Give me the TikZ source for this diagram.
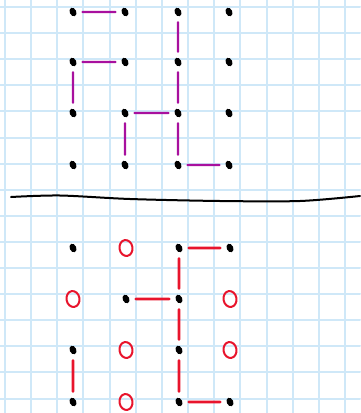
\documentclass[tikz,border=0pt]{standalone}
\usepackage{tikz}
\usetikzlibrary{shapes.geometric}
\definecolor{GridBlue}{HTML}{CFE8F8}
\definecolor{PathPurple}{HTML}{A8109E}
\definecolor{PathRed}{HTML}{E8142C}

\begin{document}
\begin{tikzpicture}[x=1pt, y=-1pt, line cap=round]
\tikzstyle{dot}=[ellipse, fill=black, inner sep=0pt, minimum width=6.5pt, minimum height=9pt, rotate=25]
\tikzstyle{hole}=[ellipse, draw=PathRed, line width=2pt, inner sep=0pt, minimum width=13pt, minimum height=16pt, rotate=10]
\tikzstyle{gridline}=[draw=GridBlue, line width=2pt]
\tikzstyle{pline}=[draw=PathPurple, line width=2.4pt, shorten <=6pt, shorten >=6pt]
\tikzstyle{rline}=[draw=PathRed, line width=2.6pt, shorten <=6pt, shorten >=6pt]
\useasboundingbox (0,0) rectangle (360,413);
\fill[white] (0,0) rectangle (360,413);
% graph paper
\foreach \i in {0,...,13} \draw[gridline] ({5+26.15*\i},0) -- ++(0,413);
\foreach \j in {0,...,15} \draw[gridline] (0,{7+26.1*\j}) -- ++(360,0);
% upper grid of dots
\foreach \r/\y in {0/12,1/62,2/113,3/165}
  \foreach \c/\x in {0/73,1/125,2/178,3/229}
    \node[dot] (t-\r-\c) at (\x,\y) {};
\draw[pline] (t-0-0) -- (t-0-1);
\draw[pline] (t-1-0) -- (t-1-1);
\draw[pline] (t-1-0) -- (t-2-0);
\draw[pline] (t-0-2) -- (t-1-2);
\draw[pline] (t-1-2) -- (t-2-2);
\draw[pline] (t-2-1) -- (t-2-2);
\draw[pline] (t-2-1) -- (t-3-1);
\draw[pline] (t-2-2) -- (t-3-2);
\draw[pline] (t-3-2) -- (t-3-3);
% divider
\draw[line width=2pt, black] plot[smooth] coordinates {(11,197) (60,195.5) (130,199) (220,201) (300,201) (360,196)};
% lower grid: dots and holes
\foreach \r/\c/\x/\y in {0/0/73/248,0/2/179/248,0/3/230/248,1/1/126/299,1/2/179/299,2/0/73/350,2/2/179/350,3/0/73/402,3/2/179/402,3/3/230/402}
  \node[dot] (b-\r-\c) at (\x,\y) {};
\foreach \r/\c/\x/\y in {0/1/126/248,1/0/73/299,1/3/230/299,2/1/126/350,2/3/230/350,3/1/126/402}
  \node[hole] (b-\r-\c) at (\x,\y) {};
\draw[rline] (b-0-2) -- (b-0-3);
\draw[rline] (b-0-2) -- (b-1-2);
\draw[rline] (b-1-1) -- (b-1-2);
\draw[rline] (b-1-2) -- (b-2-2);
\draw[rline] (b-2-2) -- (b-3-2);
\draw[rline] (b-2-0) -- (b-3-0);
\draw[rline] (b-3-2) -- (b-3-3);
\end{tikzpicture}
\end{document}
